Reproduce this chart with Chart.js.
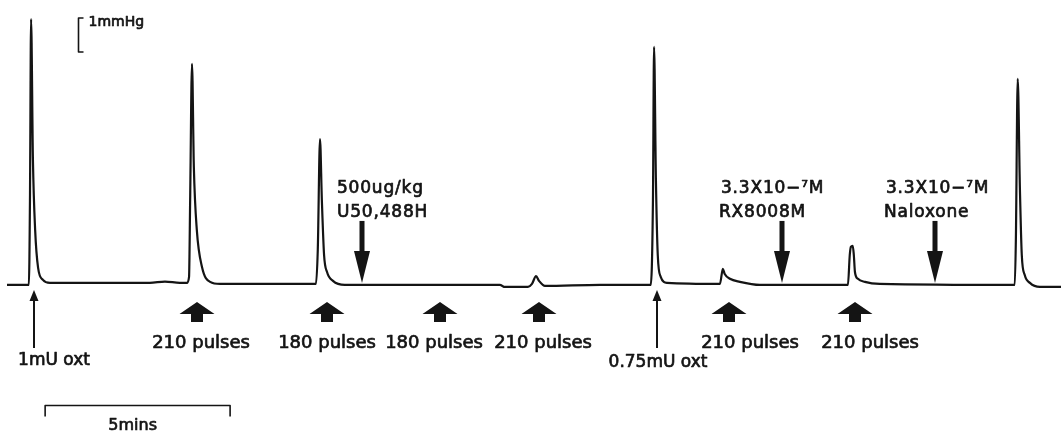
<!DOCTYPE html>
<html>
<head>
<meta charset="utf-8">
<script src="https://cdn.jsdelivr.net/npm/chart.js@4.4.1/dist/chart.umd.min.js"></script>
<style>
  html, body { margin: 0; padding: 0; background: #fff; }
  #wrap { position: relative; width: 1061px; height: 441px; }
</style>
</head>
<body>
<div id="wrap"><canvas id="trace"></canvas></div>
<script>
// Uterine pressure recording: time (min) and pressure above resting baseline (mmHg)
const traceMin = [
  0.19, 0.78, 0.81, 0.84, 0.89, 0.95, 1.03, 1.16, 1.35, 4.05, 4.46, 4.86,
  5.05, 5.11, 5.14, 5.19, 5.24, 5.32, 5.46, 5.68, 5.95,
  8.54, 8.59, 8.65, 8.70, 8.76, 8.84, 9.00, 9.32,
  13.51, 13.65, 14.27, 14.38, 14.49, 14.57, 14.73, 16.22,
  17.59, 17.65, 17.68, 17.73, 17.78, 17.86, 18.03,
  19.46, 19.54, 19.59, 19.73, 20.00, 20.54,
  22.92, 22.97, 23.00, 23.05, 23.08, 23.11, 23.19, 23.38, 23.78,
  27.43, 27.46, 27.51, 27.57, 27.62, 27.70, 27.84, 28.11, 28.68
];
const traceMmHg = [
  0, 0, 2.50, 7.82, 3.68, 1.62, 0.50, 0.15, 0.06, 0.06, 0.10, 0.06,
  0.06, 0.24, 2.50, 6.50, 3.47, 1.62, 0.53, 0.09, 0.03,
  0.03, 1.03, 4.29, 2.50, 0.88, 0.38, 0.12, 0,
  0, -0.06, -0.06, 0.03, 0.26, 0.12, -0.03, 0,
  0, 2.50, 7.00, 3.09, 0.88, 0.24, 0.06,
  0.03, 0.47, 0.32, 0.18, 0.09, 0,
  0, 0.88, 1.12, 1.15, 0.88, 0.38, 0.18, 0.09, 0.03,
  0, 1.32, 6.06, 2.79, 0.88, 0.29, 0.06, -0.06, -0.06
];

// Oxytocin injections
const oxtMin = [0.92, 17.76];
const oxtLabels = ['1mU oxt', '0.75mU oxt'];

// Electrical stimulation trains
const stimMin = [5.32, 8.84, 11.89, 14.57, 19.70, 23.11];
const stimLabels = ['210 pulses', '180 pulses', '180 pulses', '210 pulses', '210 pulses', '210 pulses'];

// Drug administrations
const drugMin = [9.78, 21.14, 25.27];
const drugLabels = [
  ['500ug/kg', 'U50,488H'],
  ['3.3X10\u2212\u2077M', 'RX8008M'],
  ['3.3X10\u2212\u2077M', 'Naloxone']
];

// Calibration bars
const calPressure = 1;   // mmHg
const calPressureLabel = '1mmHg';
const calTime = 5;       // min
const calTimeLabel = '5mins';

// Visible window of the recording
const xRange = [0, 28.68];
const yRange = [-4.59, 8.38];

// Label placement tweaks (px) so text blocks do not collide
const layoutCfg = {
  ink: '#141414',
  face: '"DejaVu Sans", Verdana, sans-serif',
  stimTextNudge: [4, 0, -6, 4, 21, 15],
  oxtTextNudge: [20, 1],
  drugTextLeft: [-25, -61, -49]
};

function fillText(ctx, txt, x, y, size, spacing, align) {
  ctx.font = size + 'px ' + layoutCfg.face;
  ctx.letterSpacing = spacing + 'px';
  ctx.textAlign = align || 'center';
  ctx.textBaseline = 'alphabetic';
  ctx.lineWidth = 0.7;
  ctx.lineJoin = 'round';
  ctx.fillText(txt, x, y);
  ctx.strokeText(txt, x, y);
}

const annotate = {
  id: 'recordingMarks',
  afterDraw(chart) {
    const ctx = chart.ctx;
    const xs = chart.scales.x, ys = chart.scales.y;
    const base = ys.getPixelForValue(0);
    const ink = layoutCfg.ink;
    ctx.save();
    ctx.fillStyle = ink;
    ctx.strokeStyle = ink;

    // Oxytocin: thin upward arrows with label below
    oxtMin.forEach((t, i) => {
      const x = Math.round(xs.getPixelForValue(t));
      const tip = base + 5;
      ctx.lineWidth = 2;
      ctx.beginPath();
      ctx.moveTo(x, tip + 8);
      ctx.lineTo(x, base + 63);
      ctx.stroke();
      ctx.beginPath();
      ctx.moveTo(x, tip);
      ctx.lineTo(x - 4.5, tip + 11);
      ctx.lineTo(x + 4.5, tip + 11);
      ctx.closePath();
      ctx.fill();
      fillText(ctx, oxtLabels[i], x + layoutCfg.oxtTextNudge[i], base + 80 + i * 2, 17, 0);
    });

    // Stimulation: broad upward arrows with pulse counts
    stimMin.forEach((t, i) => {
      const x = Math.round(xs.getPixelForValue(t));
      const top = base + 17;
      ctx.beginPath();
      ctx.moveTo(x, top);
      ctx.lineTo(x + 17.5, top + 12);
      ctx.lineTo(x + 6, top + 12);
      ctx.lineTo(x + 6, top + 20);
      ctx.lineTo(x - 6, top + 20);
      ctx.lineTo(x - 6, top + 12);
      ctx.lineTo(x - 17.5, top + 12);
      ctx.closePath();
      ctx.fill();
      fillText(ctx, stimLabels[i], x + layoutCfg.stimTextNudge[i], base + 63, 18, 0);
    });

    // Drugs: downward arrows with two-line label above
    drugMin.forEach((t, i) => {
      const x = Math.round(xs.getPixelForValue(t));
      const tip = base - 2;
      ctx.fillRect(x - 2.5, base - 64, 5, 34);
      ctx.beginPath();
      ctx.moveTo(x - 8, base - 34);
      ctx.lineTo(x + 8, base - 34);
      ctx.lineTo(x, tip);
      ctx.closePath();
      ctx.fill();
      const left = x + layoutCfg.drugTextLeft[i];
      fillText(ctx, drugLabels[i][0], left, base - 92, 17, 0.8, 'left');
      fillText(ctx, drugLabels[i][1], left - (i ? 2 : 0), base - 68, 17, 0.8, 'left');
    });

    // Pressure calibration bracket
    const yTop = ys.getPixelForValue(yRange[1]) + 18;
    const span = ys.getPixelForValue(0) - ys.getPixelForValue(calPressure);
    const bx = 78.5;
    ctx.lineWidth = 1.6;
    ctx.beginPath();
    ctx.moveTo(bx + 5, yTop);
    ctx.lineTo(bx, yTop);
    ctx.lineTo(bx, yTop + span);
    ctx.lineTo(bx + 5, yTop + span);
    ctx.stroke();
    fillText(ctx, calPressureLabel, bx + 10, yTop + 8, 14, 0, 'left');

    // Time calibration bar
    const tx0 = xs.getPixelForValue(1.22);
    const tx1 = xs.getPixelForValue(1.22 + calTime);
    const ty = 405.5;
    ctx.lineWidth = 1.6;
    ctx.beginPath();
    ctx.moveTo(tx0, ty + 11);
    ctx.lineTo(tx0, ty);
    ctx.lineTo(tx1, ty);
    ctx.lineTo(tx1, ty + 11);
    ctx.stroke();
    fillText(ctx, calTimeLabel, (tx0 + tx1) / 2 - 5, ty + 24, 16, 0);

    ctx.restore();
  }
};

new Chart(document.getElementById('trace'), {
  type: 'line',
  data: {
    datasets: [{
      data: traceMin.map((t, i) => ({ x: t, y: traceMmHg[i] })),
      borderColor: '#141414',
      borderWidth: 2.2,
      borderJoinStyle: 'round',
      cubicInterpolationMode: 'monotone',
      pointRadius: 0,
      fill: false
    }]
  },
  options: {
    responsive: true,
    maintainAspectRatio: false,
    animation: false,
    events: [],
    layout: { padding: 0 },
    plugins: { legend: { display: false }, tooltip: { enabled: false } },
    scales: {
      x: { type: 'linear', min: xRange[0], max: xRange[1], display: false },
      y: { type: 'linear', min: yRange[0], max: yRange[1], display: false }
    }
  },
  plugins: [annotate]
});
</script>
</body>
</html>
